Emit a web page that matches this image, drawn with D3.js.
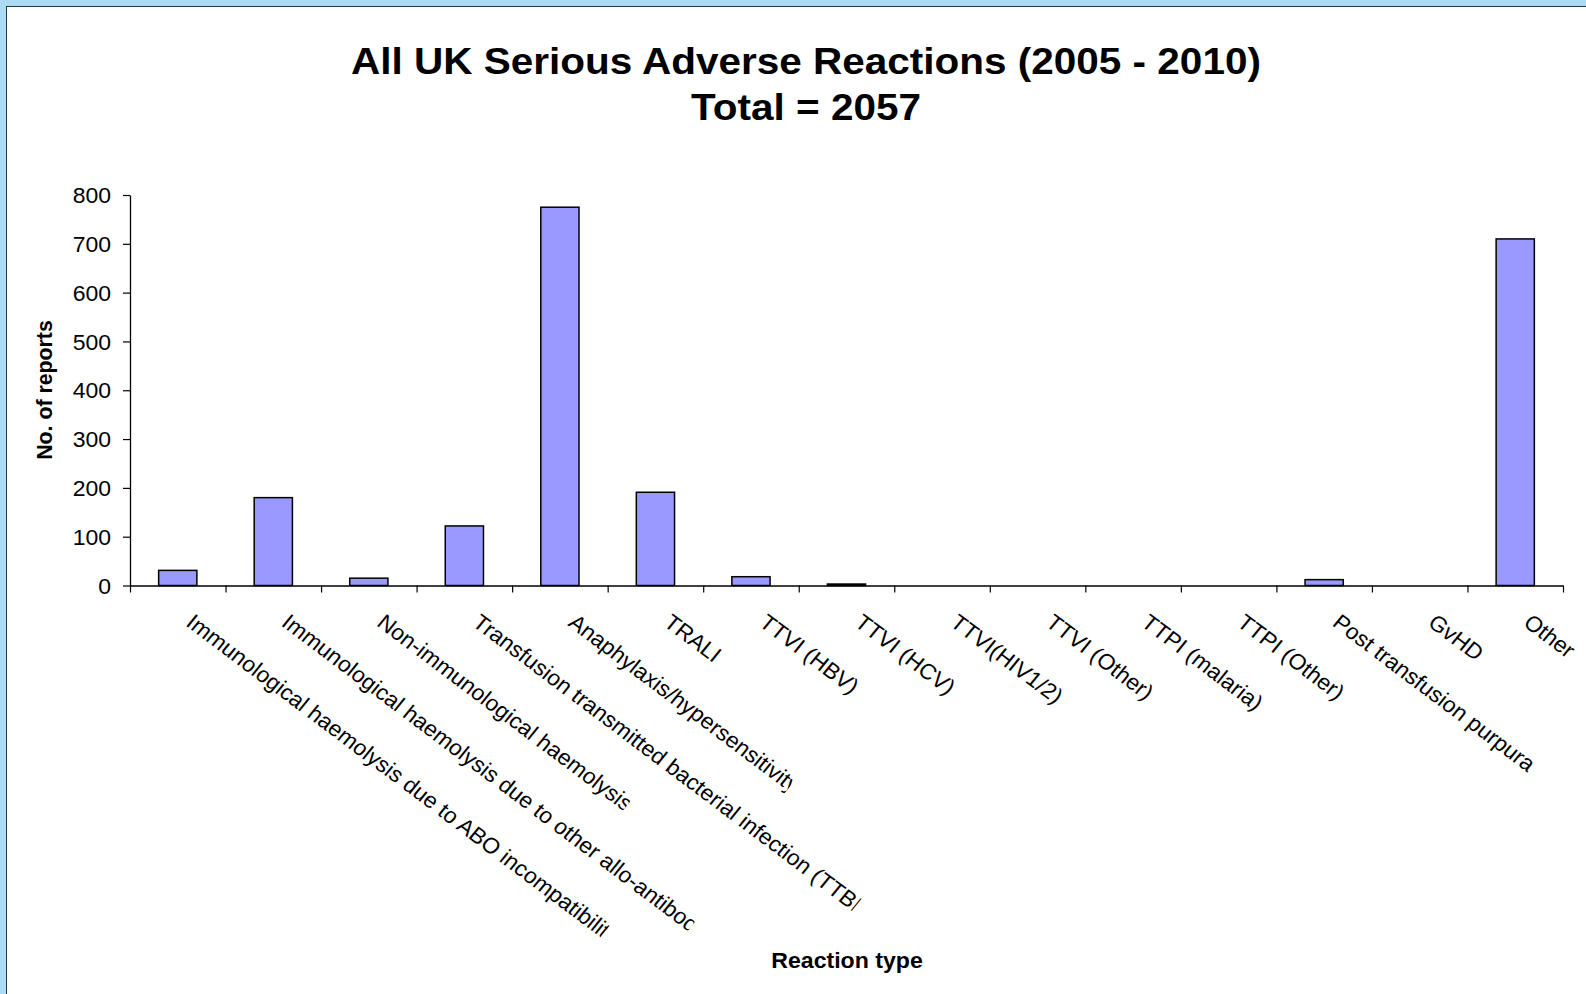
<!DOCTYPE html>
<html>
<head>
<meta charset="utf-8">
<script src="https://cdn.jsdelivr.net/npm/d3@7"></script>
<style>
  html, body { margin: 0; padding: 0; background: #aedbf4; overflow: hidden; }
  svg { display: block; }
  text { font-family: "Liberation Sans", Arial, sans-serif; fill: #000; }
</style>
</head>
<body>
<svg id="chart" width="1586" height="994"></svg>
<script>
// ---------------- DATA ----------------
const categories = [
  "Immunological haemolysis due to ABO incompatibility",
  "Immunological haemolysis due to other allo-antibodies",
  "Non-immunological haemolysis",
  "Transfusion transmitted bacterial infection (TTBI)",
  "Anaphylaxis/hypersensitivity",
  "TRALI",
  "TTVI (HBV)",
  "TTVI (HCV)",
  "TTVI(HIV1/2)",
  "TTVI (Other)",
  "TTPI (malaria)",
  "TTPI (Other)",
  "Post transfusion purpura",
  "GvHD",
  "Other"
];
const reports = [31, 180, 15, 122, 775, 191, 18, 3, 0, 0, 0, 0, 12, 0, 710];
const yTickValues = [0, 100, 200, 300, 400, 500, 600, 700, 800];
const titleLines = ["All UK Serious Adverse Reactions (2005 - 2010)", "Total = 2057"];
const yAxisTitle = "No. of reports";
const xAxisTitle = "Reaction type";

// ---------------- LAYOUT ----------------
const W = 1586, H = 994;
const plot = { left: 130, right: 1563, top: 195, bottom: 585.5 };
const stretch = 1.08;               // the original picture is slightly widened
const tickFont = 21.3;
const catFont = 22, catAngle = 38, catStretch = 1.04;
// visible length (in em) of each category label, Excel-style truncation
const labelClipEm = { 0: 23.05, 1: 22.6, 2: 13.7, 3: 21.1, 4: 12.2 };

const svg = d3.select("#chart");
const defs = svg.append("defs");

// panel
svg.append("rect")
  .attr("x", 6.5).attr("y", 6.5)
  .attr("width", W).attr("height", H)
  .attr("fill", "#ffffff")
  .attr("stroke", "#24384d").attr("stroke-width", 1);

// scales
const y = d3.scaleLinear().domain([0, 800]).range([plot.bottom, plot.top]);
const xSlot = d3.scaleBand().domain(categories).range([plot.left, plot.right]).padding(0);
const xBar = d3.scaleBand().domain(categories).range([plot.left, plot.right])
  .paddingInner(0.6).paddingOuter(0.3);
const xIdx = d3.scaleLinear().domain([0, categories.length]).range([plot.left, plot.right]);

// bars
svg.append("g").selectAll("rect")
  .data(categories.map((c, i) => ({ c, v: reports[i] })).filter(d => d.v > 0))
  .join("rect")
  .attr("x", d => xBar(d.c))
  .attr("y", d => y(d.v))
  .attr("width", xBar.bandwidth())
  .attr("height", d => y(0) - y(d.v))
  .attr("fill", "#9999ff")
  .attr("stroke", "#000")
  .attr("stroke-width", 1.5);

// y axis
const gy = svg.append("g")
  .attr("transform", `translate(${plot.left},0)`)
  .call(d3.axisLeft(y).tickValues(yTickValues).tickSize(7).tickSizeOuter(0));
gy.select(".domain").attr("stroke", "#000").attr("stroke-width", 1.3);
gy.selectAll(".tick line").attr("stroke", "#000").attr("stroke-width", 1.2);
gy.selectAll(".tick text")
  .attr("x", 0).attr("dy", "0.36em")
  .attr("transform", `translate(-19,0) scale(${stretch},1)`)
  .attr("font-size", tickFont)
  .attr("font-family", "Liberation Sans, Arial, sans-serif")
  .attr("fill", "#000");

// x axis
const gx = svg.append("g")
  .attr("transform", `translate(0,${plot.bottom})`)
  .call(d3.axisBottom(xIdx).tickValues(d3.range(categories.length + 1))
    .tickSize(7).tickSizeOuter(0).tickFormat(""));
gx.select(".domain").attr("stroke", "#000").attr("stroke-width", 1.3);
gx.selectAll(".tick line").attr("stroke", "#000").attr("stroke-width", 1.2);

// category labels
categories.forEach((c, i) => {
  const cx = xSlot(c) + xSlot.bandwidth() / 2 + 7;
  const g = svg.append("g")
    .attr("transform", `translate(${cx},625) scale(${catStretch},1) rotate(${catAngle})`);
  const t = g.append("text")
    .attr("x", 0).attr("y", 0)
    .attr("font-size", catFont)
    .attr("text-anchor", "start")
    .text(c);
  if (labelClipEm[i] !== undefined) {
    const id = "clip" + i;
    defs.append("clipPath").attr("id", id)
      .append("rect")
      .attr("x", -4).attr("y", -catFont * 1.2)
      .attr("width", labelClipEm[i] * catFont + 4)
      .attr("height", catFont * 1.8);
    t.attr("clip-path", `url(#${id})`);
  }
});

// titles
svg.append("text")
  .attr("transform", `translate(806,74) scale(${stretch},1)`)
  .attr("text-anchor", "middle").attr("font-weight", "bold").attr("font-size", 37.5)
  .text(titleLines[0]);
svg.append("text")
  .attr("transform", `translate(806,120) scale(${stretch},1)`)
  .attr("text-anchor", "middle").attr("font-weight", "bold").attr("font-size", 37.5)
  .text(titleLines[1]);

svg.append("text")
  .attr("transform", `translate(847,968) scale(${stretch},1)`)
  .attr("text-anchor", "middle").attr("font-weight", "bold").attr("font-size", 21.4)
  .text(xAxisTitle);

svg.append("text")
  .attr("transform", "translate(51.5,390) rotate(-90)")
  .attr("text-anchor", "middle").attr("font-weight", "bold").attr("font-size", 21.3)
  .text(yAxisTitle);
</script>
</body>
</html>
